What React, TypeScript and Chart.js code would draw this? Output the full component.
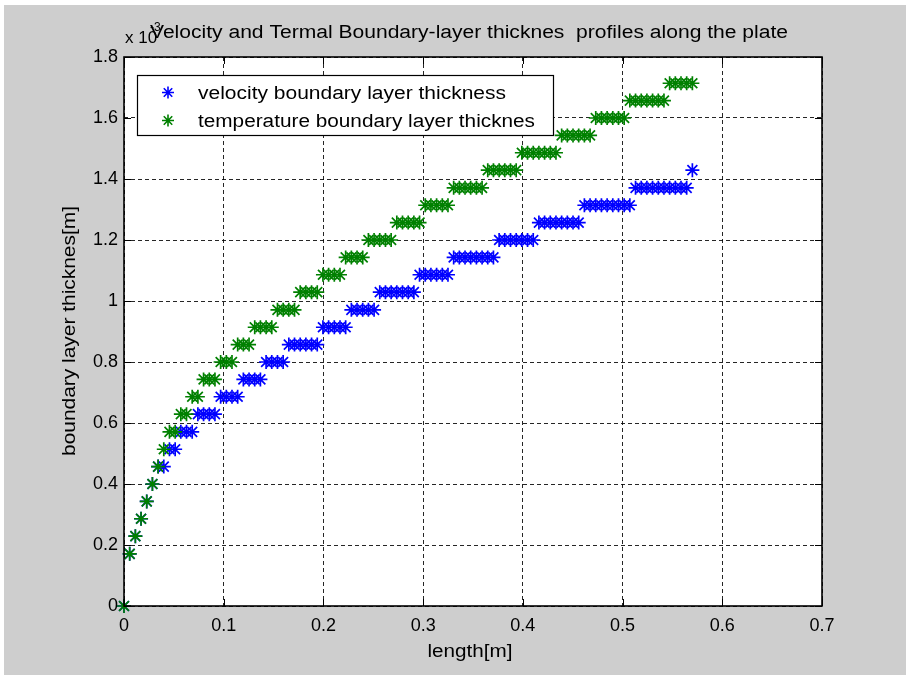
import React, { useEffect, useRef } from 'react';
import { Chart, registerables } from 'chart.js';

Chart.register(...registerables);

// plate length [m]
const xLength = [
  0, 0.0057, 0.0114, 0.0171, 0.0228, 0.0285, 0.0342, 0.0399, 0.0456, 0.0513,
  0.057, 0.0627, 0.0684, 0.0741, 0.0798, 0.0855, 0.0912, 0.0969, 0.1026, 0.1083,
  0.114, 0.1197, 0.1254, 0.1311, 0.1368, 0.1425, 0.1482, 0.1539, 0.1596, 0.1653,
  0.171, 0.1767, 0.1824, 0.1881, 0.1938, 0.1995, 0.2052, 0.2109, 0.2166, 0.2223,
  0.228, 0.2337, 0.2394, 0.2451, 0.2508, 0.2565, 0.2622, 0.2679, 0.2736, 0.2793,
  0.285, 0.2907, 0.2964, 0.3021, 0.3078, 0.3135, 0.3192, 0.3249, 0.3306, 0.3363,
  0.342, 0.3477, 0.3534, 0.3591, 0.3648, 0.3705, 0.3762, 0.3819, 0.3876, 0.3933,
  0.399, 0.4047, 0.4104, 0.4161, 0.4218, 0.4275, 0.4332, 0.4389, 0.4446, 0.4503,
  0.456, 0.4617, 0.4674, 0.4731, 0.4788, 0.4845, 0.4902, 0.4959, 0.5016, 0.5073,
  0.513, 0.5187, 0.5244, 0.5301, 0.5358, 0.5415, 0.5472, 0.5529, 0.5586, 0.5643,
  0.57,
];

// velocity boundary layer thickness [x 1e-3 m]
const velocityThickness = [
  0, 0.171, 0.229, 0.286, 0.343, 0.4, 0.457, 0.457, 0.514, 0.514,
  0.571, 0.571, 0.571, 0.629, 0.629, 0.629, 0.629, 0.686, 0.686, 0.686,
  0.686, 0.743, 0.743, 0.743, 0.743, 0.8, 0.8, 0.8, 0.8, 0.857,
  0.857, 0.857, 0.857, 0.857, 0.857, 0.914, 0.914, 0.914, 0.914, 0.914,
  0.971, 0.971, 0.971, 0.971, 0.971, 1.029, 1.029, 1.029, 1.029, 1.029,
  1.029, 1.029, 1.086, 1.086, 1.086, 1.086, 1.086, 1.086, 1.143, 1.143,
  1.143, 1.143, 1.143, 1.143, 1.143, 1.143, 1.2, 1.2, 1.2, 1.2,
  1.2, 1.2, 1.2, 1.257, 1.257, 1.257, 1.257, 1.257, 1.257, 1.257,
  1.257, 1.314, 1.314, 1.314, 1.314, 1.314, 1.314, 1.314, 1.314, 1.314,
  1.371, 1.371, 1.371, 1.371, 1.371, 1.371, 1.371, 1.371, 1.371, 1.371,
  1.429,
];

// temperature boundary layer thickness [x 1e-3 m]
const temperatureThickness = [
  0, 0.171, 0.229, 0.286, 0.343, 0.4, 0.457, 0.514, 0.571, 0.571,
  0.629, 0.629, 0.686, 0.686, 0.743, 0.743, 0.743, 0.8, 0.8, 0.8,
  0.857, 0.857, 0.857, 0.914, 0.914, 0.914, 0.914, 0.971, 0.971, 0.971,
  0.971, 1.029, 1.029, 1.029, 1.029, 1.086, 1.086, 1.086, 1.086, 1.143,
  1.143, 1.143, 1.143, 1.2, 1.2, 1.2, 1.2, 1.2, 1.257, 1.257,
  1.257, 1.257, 1.257, 1.314, 1.314, 1.314, 1.314, 1.314, 1.371, 1.371,
  1.371, 1.371, 1.371, 1.371, 1.429, 1.429, 1.429, 1.429, 1.429, 1.429,
  1.486, 1.486, 1.486, 1.486, 1.486, 1.486, 1.486, 1.543, 1.543, 1.543,
  1.543, 1.543, 1.543, 1.6, 1.6, 1.6, 1.6, 1.6, 1.6, 1.657,
  1.657, 1.657, 1.657, 1.657, 1.657, 1.657, 1.714, 1.714, 1.714, 1.714,
  1.714,
];

const xTickValues = [0, 0.1, 0.2, 0.3, 0.4, 0.5, 0.6, 0.7];
const yTickValues = [0, 0.2, 0.4, 0.6, 0.8, 1, 1.2, 1.4, 1.6, 1.8];

const titleText = 'Velocity and Termal Boundary-layer thicknes  profiles along the plate';
const xAxisLabel = 'length[m]';
const yAxisLabel = 'boundary layer thicknes[m]';
const exponentBase = 'x 10';
const exponentPower = '-3';
const seriesLabels = ['velocity boundary layer thickness', 'temperature boundary layer thicknes'];
const seriesColors = ['#0000ff', '#008000'];

const FONT = '"Liberation Sans", Arial, Helvetica, sans-serif';

function fitText(
  ctx: CanvasRenderingContext2D,
  text: string,
  x: number,
  y: number,
  size: number,
  target: number | null,
  align: CanvasTextAlign,
  rotate = 0
) {
  ctx.save();
  ctx.font = `${size}px ${FONT}`;
  const w = ctx.measureText(text).width;
  const s = target ? target / w : 1;
  ctx.translate(x, y);
  if (rotate) ctx.rotate(rotate);
  ctx.scale(s, 1);
  ctx.textAlign = align;
  ctx.textBaseline = 'alphabetic';
  ctx.fillStyle = '#000';
  ctx.fillText(text, 0, 0);
  ctx.restore();
}

function drawStar(ctx: CanvasRenderingContext2D, x: number, y: number, r: number, color: string) {
  ctx.save();
  ctx.strokeStyle = color;
  ctx.lineWidth = 1.6;
  ctx.beginPath();
  ctx.moveTo(x - r, y);
  ctx.lineTo(x + r, y);
  ctx.moveTo(x, y - r);
  ctx.lineTo(x, y + r);
  const d = r * Math.SQRT1_2;
  ctx.moveTo(x - d, y - d);
  ctx.lineTo(x + d, y + d);
  ctx.moveTo(x - d, y + d);
  ctx.lineTo(x + d, y - d);
  ctx.stroke();
  ctx.restore();
}

const framePlugin = {
  id: 'matlabFrame',
  beforeDraw(chart: any) {
    const { ctx, width, height, chartArea: a } = chart;
    ctx.save();
    ctx.fillStyle = '#ffffff';
    ctx.fillRect(0, 0, width, height);
    ctx.fillStyle = '#cecece';
    ctx.fillRect(4, 5, width - 4, 670);
    ctx.fillStyle = '#ffffff';
    ctx.fillRect(a.left, a.top, a.right - a.left, a.bottom - a.top);
    ctx.restore();
  },
  afterDraw(chart: any) {
    const { ctx, chartArea: a, scales } = chart;
    const xs = scales.x;
    const ys = scales.y;
    ctx.save();
    ctx.strokeStyle = '#000';
    ctx.lineWidth = 1;
    ctx.beginPath();
    xTickValues.forEach((v) => {
      const px = Math.round(xs.getPixelForValue(v)) + 0.5;
      ctx.moveTo(px, a.bottom);
      ctx.lineTo(px, a.bottom - 7);
      ctx.moveTo(px, a.top);
      ctx.lineTo(px, a.top + 7);
    });
    yTickValues.forEach((v) => {
      const py = Math.round(ys.getPixelForValue(v)) + 0.5;
      ctx.moveTo(a.left, py);
      ctx.lineTo(a.left + 7, py);
      ctx.moveTo(a.right, py);
      ctx.lineTo(a.right - 7, py);
    });
    ctx.stroke();
    ctx.lineWidth = 1.6;
    ctx.strokeRect(a.left, a.top, a.right - a.left, a.bottom - a.top);
    ctx.restore();

    fitText(ctx, titleText, 469, 38, 18, 638, 'center');
    fitText(ctx, exponentBase, 125, 43, 17, null, 'left');
    fitText(ctx, exponentPower, 150, 31, 12, null, 'left');

    fitText(ctx, xAxisLabel, 470, 657, 18, 85, 'center');
    fitText(ctx, yAxisLabel, 75, 331, 18, 250, 'center', -Math.PI / 2);

    ctx.save();
    ctx.fillStyle = '#ffffff';
    ctx.fillRect(137, 75, 417, 61);
    ctx.strokeStyle = '#000';
    ctx.lineWidth = 1.2;
    ctx.strokeRect(137.5, 75.5, 416, 60);
    ctx.restore();
    drawStar(ctx, 168, 92.5, 6, seriesColors[0]);
    drawStar(ctx, 168, 120.5, 6, seriesColors[1]);
    fitText(ctx, seriesLabels[0], 198, 99, 18, 308, 'left');
    fitText(ctx, seriesLabels[1], 198, 126.5, 18, 337, 'left');
  },
};

export default function App() {
  const canvasRef = useRef<HTMLCanvasElement | null>(null);

  useEffect(() => {
    const canvas = canvasRef.current;
    if (!canvas) return;
    const velocityPoints = xLength.map((x, i) => ({ x, y: velocityThickness[i] }));
    const temperaturePoints = xLength.map((x, i) => ({ x, y: temperatureThickness[i] }));

    const chart = new Chart(canvas, {
      type: 'scatter',
      data: {
        datasets: [
          {
            label: seriesLabels[0],
            data: velocityPoints,
            pointStyle: 'star',
            radius: 7,
            borderWidth: 1.7,
            borderColor: seriesColors[0],
            backgroundColor: seriesColors[0],
            showLine: false,
            clip: false,
            order: 2,
          },
          {
            label: seriesLabels[1],
            data: temperaturePoints,
            pointStyle: 'star',
            radius: 7,
            borderWidth: 1.7,
            borderColor: seriesColors[1],
            backgroundColor: seriesColors[1],
            showLine: false,
            clip: false,
            order: 1,
          },
        ],
      },
      options: {
        responsive: false,
        animation: false,
        devicePixelRatio: 1,
        layout: { padding: { top: 57, right: 84, bottom: 0, left: 0 } },
        plugins: {
          legend: { display: false },
          title: { display: false },
          tooltip: { enabled: false },
        },
        scales: {
          x: {
            type: 'linear',
            min: 0,
            max: 0.7,
            afterFit: (s: any) => {
              s.height = 73;
            },
            afterBuildTicks: (s: any) => {
              s.ticks = xTickValues.map((v) => ({ value: v }));
            },
            ticks: {
              padding: 9,
              color: '#000',
              font: { family: FONT, size: 18 },
              maxRotation: 0,
              callback: (v: any) => String(Number(Number(v).toFixed(1))),
            },
            grid: { color: 'rgba(0,0,0,0.85)', lineWidth: 1, drawTicks: false },
            border: { display: false, dash: [4, 3] },
          },
          y: {
            type: 'linear',
            min: 0,
            max: 1.8,
            afterFit: (s: any) => {
              s.width = 124;
            },
            afterBuildTicks: (s: any) => {
              s.ticks = yTickValues.map((v) => ({ value: v }));
            },
            ticks: {
              padding: 6,
              color: '#000',
              font: { family: FONT, size: 18 },
              callback: (v: any) => String(Number(Number(v).toFixed(1))),
            },
            grid: { color: 'rgba(0,0,0,0.85)', lineWidth: 1, drawTicks: false },
            border: { display: false, dash: [4, 3] },
          },
        },
      },
      plugins: [framePlugin],
    });
    return () => chart.destroy();
  }, []);

  return (
    <div style={{ position: 'absolute', left: 0, top: 0, width: 906, height: 679 }}>
      <canvas ref={canvasRef} width={906} height={679} style={{ display: 'block' }} />
    </div>
  );
}
